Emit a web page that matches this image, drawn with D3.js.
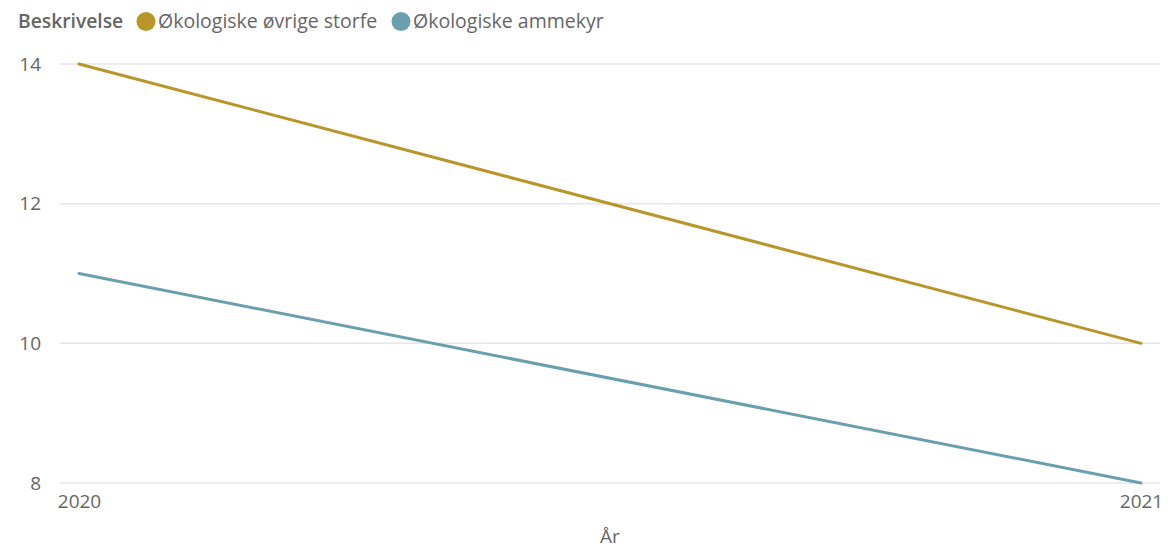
<!DOCTYPE html>
<html><head><meta charset="utf-8">
<script src="https://cdn.jsdelivr.net/npm/d3@7"></script>
<style>body{margin:0;background:#fff;font-family:"Open Sans","Segoe UI",sans-serif;}</style>
</head><body><svg id="c" width="1168" height="548"></svg>
<script>
const years = ["2020", "2021"];
const seriesNames = ["Økologiske øvrige storfe", "Økologiske ammekyr"];
const storfe = [14, 10];
const ammekyr = [11, 8];
const yTicks = [8, 10, 12, 14];
const colors = ["#B8962A", "#6A9FAE"];

const svg = d3.select("#c");
const x = d3.scalePoint().domain(years).range([79, 1141]);
const y = d3.scaleLinear().domain([8, 14]).range([483, 64]);
const FS = 19;

// gridlines
svg.append("g").selectAll("line").data(yTicks).join("line")
  .attr("x1", 60).attr("x2", 1160)
  .attr("y1", d => y(d)).attr("y2", d => y(d))
  .attr("stroke", "#e6e6e6").attr("stroke-width", 1.5);

// y axis labels
const yAxis = svg.append("g").attr("transform", "translate(41,0)")
  .call(d3.axisLeft(y).tickValues(yTicks).tickFormat(d3.format("d")).tickSize(0).tickPadding(0));
yAxis.select(".domain").remove();
yAxis.selectAll("text").attr("font-size", FS).attr("fill", "#666").attr("font-family", "Open Sans, sans-serif");

// x axis labels
const xAxis = svg.append("g").attr("transform", "translate(0,494)")
  .call(d3.axisBottom(x).tickSize(0).tickPadding(0));
xAxis.select(".domain").remove();
xAxis.selectAll("text").attr("font-size", FS).attr("fill", "#666").attr("font-family", "Open Sans, sans-serif");

svg.append("text").attr("x", 610).attr("y", 543).attr("text-anchor", "middle")
  .attr("font-size", FS).attr("fill", "#666").text("År");

// lines
const data = [storfe, ammekyr];
const line = d3.line().x((d, i) => x(years[i])).y(d => y(d));
svg.append("g").selectAll("path").data(data).join("path")
  .attr("d", d => line(d)).attr("fill", "none")
  .attr("stroke", (d, i) => colors[i]).attr("stroke-width", 3).attr("stroke-linecap", "round");

// legend
const lg = svg.append("g");
lg.append("text").attr("x", 18).attr("y", 28).attr("font-size", 19.3).attr("font-weight", 600)
  .attr("fill", "#666").text("Beskrivelse");
const legX = [146, 401];
seriesNames.forEach((n, i) => {
  lg.append("circle").attr("cx", legX[i]).attr("cy", 21.5).attr("r", 9.5).attr("fill", colors[i]);
  lg.append("text").attr("x", legX[i] + 12).attr("y", 28).attr("font-size", 19.5).attr("fill", "#666").text(n);
});
</script></body></html>
